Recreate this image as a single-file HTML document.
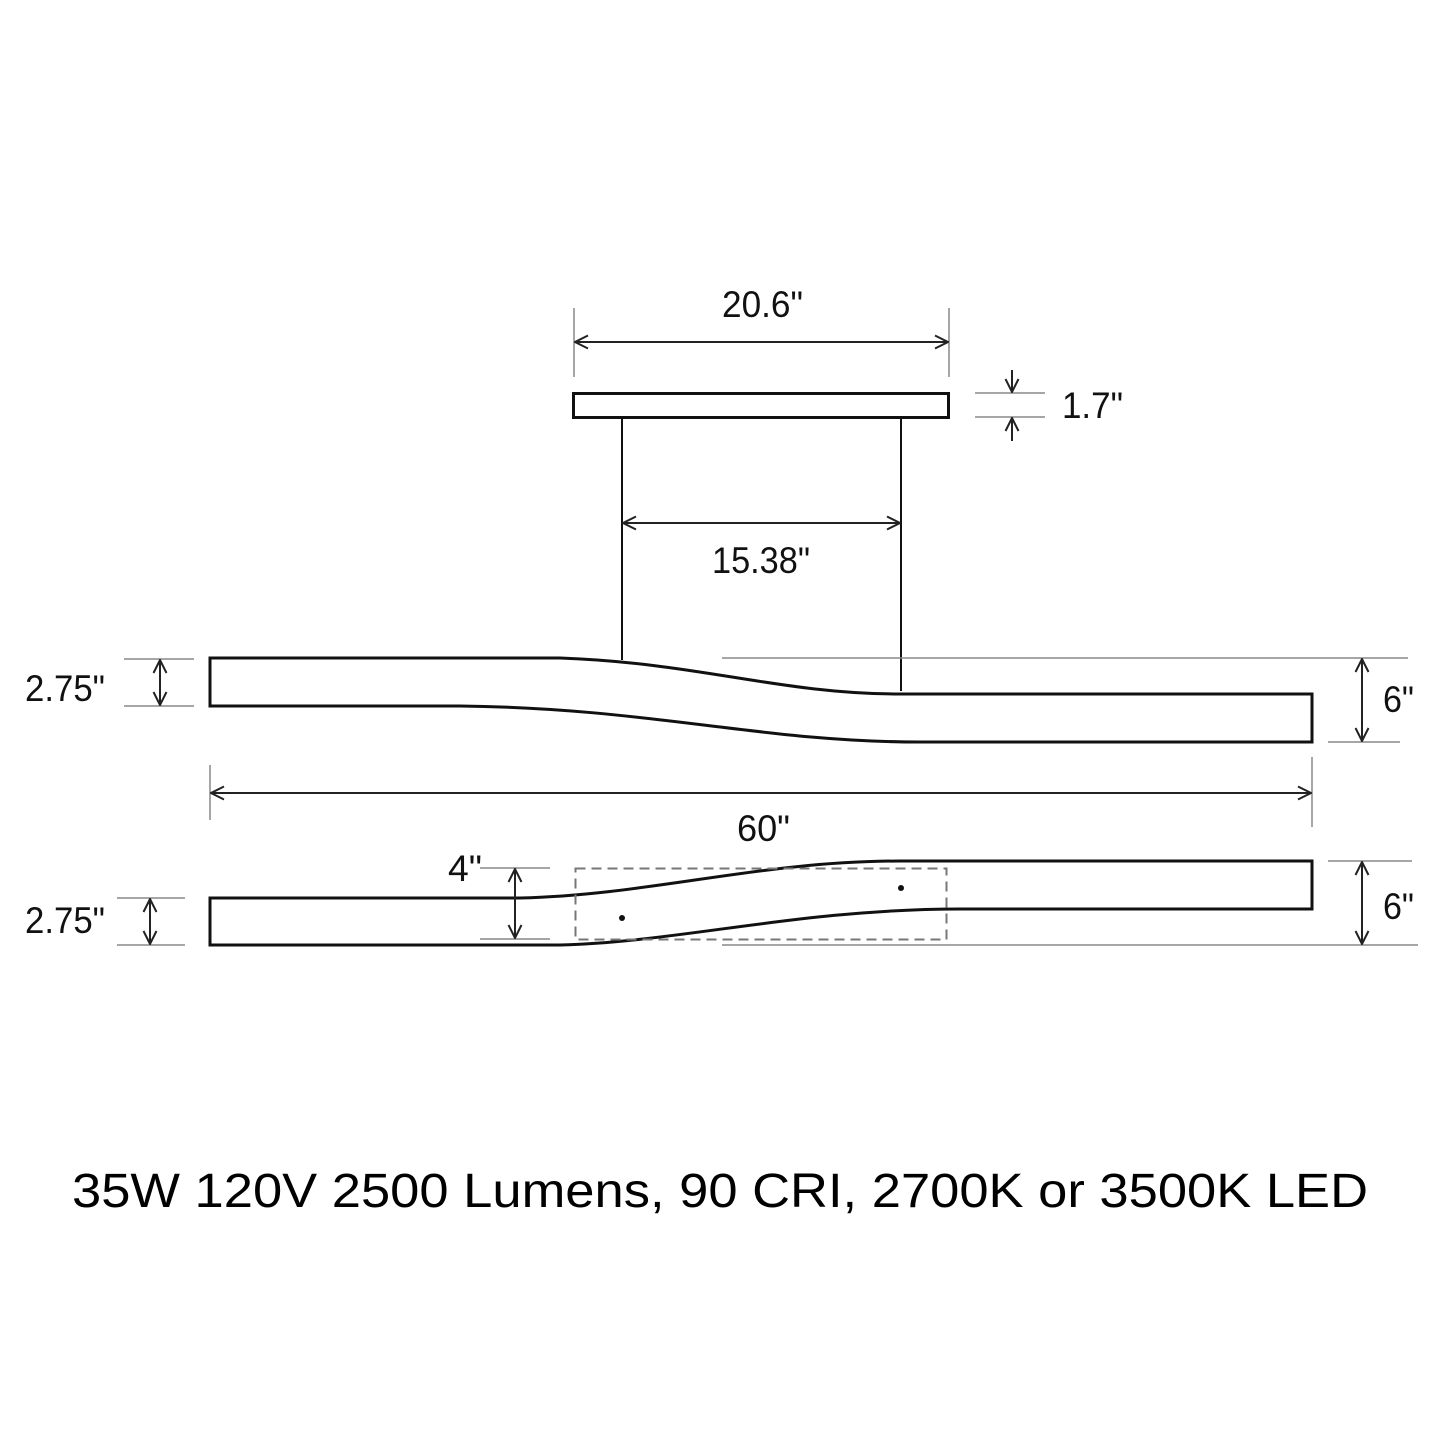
<!DOCTYPE html>
<html><head><meta charset="utf-8"><style>html,body{margin:0;padding:0;background:#fff}svg{display:block}</style></head>
<body>
<svg width="1440" height="1440" viewBox="0 0 1440 1440" xmlns="http://www.w3.org/2000/svg" font-family="Liberation Sans, sans-serif">
<defs>
<marker id="a" viewBox="0 0 16 16" refX="15" refY="8" markerWidth="16" markerHeight="16" markerUnits="userSpaceOnUse" orient="auto-start-reverse"><path d="M2,1.5 L15,8 L2,14.5" fill="none" stroke="#222" stroke-width="2"/></marker>
</defs>
<g fill="none" stroke="#111">
<rect x="573.5" y="393.5" width="375" height="24" stroke-width="3"/>
<line x1="622" y1="418" x2="622" y2="660" stroke-width="2"/>
<line x1="901" y1="418" x2="901" y2="691" stroke-width="2"/>
<path d="M210,658 L560,658 C700,663 780,694 900,694 L1312,694 L1312,742 L920,742 C760,742 650,708 460,706 L210,706 Z" stroke-width="3"/>
<path d="M210,898 L520,898 C650,895 760,861 900,861 L1312,861 L1312,909 L960,909 C800,909 680,942 560,945 L210,945 Z" stroke-width="3"/>
</g>
<rect x="575.5" y="868.5" width="371" height="71" fill="none" stroke="#777" stroke-width="2" stroke-dasharray="10,6"/>
<circle cx="622" cy="918" r="3" fill="#111"/>
<circle cx="901" cy="888" r="3" fill="#111"/>
<g stroke="#888" stroke-width="1.5">
<line x1="574" y1="308" x2="574" y2="377"/><line x1="949" y1="308" x2="949" y2="377"/>
<line x1="975" y1="393" x2="1045" y2="393"/><line x1="975" y1="417" x2="1045" y2="417"/>
<line x1="722" y1="658" x2="1408" y2="658"/><line x1="1328" y1="742" x2="1400" y2="742"/>
<line x1="124" y1="659" x2="194" y2="659"/><line x1="124" y1="706" x2="194" y2="706"/>
<line x1="210" y1="765" x2="210" y2="820"/><line x1="1312" y1="757" x2="1312" y2="827"/>
<line x1="480" y1="868" x2="550" y2="868"/><line x1="480" y1="939" x2="550" y2="939"/>
<line x1="117" y1="898" x2="185" y2="898"/><line x1="117" y1="945" x2="185" y2="945"/>
<line x1="1328" y1="861" x2="1412" y2="861"/><line x1="722" y1="945" x2="1418" y2="945"/>
</g>
<g stroke="#222" stroke-width="2" fill="none">
<line x1="575" y1="342" x2="948" y2="342" marker-start="url(#a)" marker-end="url(#a)"/>
<line x1="1012" y1="370" x2="1012" y2="392" marker-end="url(#a)"/>
<line x1="1012" y1="441" x2="1012" y2="418" marker-end="url(#a)"/>
<line x1="623" y1="523" x2="900" y2="523" marker-start="url(#a)" marker-end="url(#a)"/>
<line x1="160" y1="660" x2="160" y2="705" marker-start="url(#a)" marker-end="url(#a)"/>
<line x1="1362" y1="659" x2="1362" y2="741" marker-start="url(#a)" marker-end="url(#a)"/>
<line x1="211" y1="793" x2="1311" y2="793" marker-start="url(#a)" marker-end="url(#a)"/>
<line x1="515" y1="869" x2="515" y2="938" marker-start="url(#a)" marker-end="url(#a)"/>
<line x1="150" y1="899" x2="150" y2="944" marker-start="url(#a)" marker-end="url(#a)"/>
<line x1="1362" y1="862" x2="1362" y2="944" marker-start="url(#a)" marker-end="url(#a)"/>
</g>
<g fill="#111" font-size="37">
<text x="722" y="317" textLength="81" lengthAdjust="spacingAndGlyphs">20.6"</text>
<text x="1062" y="418" textLength="61" lengthAdjust="spacingAndGlyphs">1.7"</text>
<text x="712" y="573" textLength="98" lengthAdjust="spacingAndGlyphs">15.38"</text>
<text x="25" y="701" textLength="80" lengthAdjust="spacingAndGlyphs">2.75"</text>
<text x="1383" y="712" textLength="31" lengthAdjust="spacingAndGlyphs">6"</text>
<text x="737" y="841" textLength="53" lengthAdjust="spacingAndGlyphs">60"</text>
<text x="448" y="881" textLength="34" lengthAdjust="spacingAndGlyphs">4"</text>
<text x="25" y="933" textLength="80" lengthAdjust="spacingAndGlyphs">2.75"</text>
<text x="1383" y="919" textLength="31" lengthAdjust="spacingAndGlyphs">6"</text>
</g>
<text x="72" y="1207" font-size="48" fill="#000" textLength="1296" lengthAdjust="spacingAndGlyphs">35W 120V 2500 Lumens, 90 CRI, 2700K or 3500K LED</text>
</svg>
</body></html>
